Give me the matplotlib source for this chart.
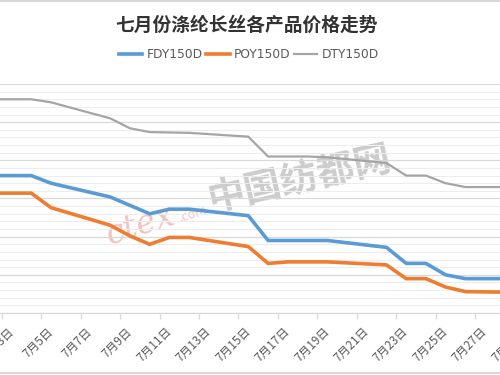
import matplotlib
matplotlib.use("Agg")
import matplotlib.pyplot as plt
from matplotlib.lines import Line2D
from matplotlib.ticker import MultipleLocator

plt.rcParams['font.family'] = ['Noto Sans CJK SC', 'DejaVu Sans']

# trading days in July (day of month)
days = [1, 2, 3, 4, 5, 8, 9, 10, 11, 12, 15, 16, 17, 18, 19, 22, 23, 24, 25, 26, 29]
fdy150d = [8300, 8300, 8300, 8300, 8200, 8020, 7910, 7800, 7860, 7860, 7775,
           7450, 7450, 7450, 7450, 7360, 7150, 7150, 7000, 6950, 6950]
poy150d = [8070, 8070, 8070, 8070, 7880, 7650, 7510, 7400, 7490, 7490, 7370,
           7150, 7170, 7170, 7170, 7130, 6950, 6950, 6840, 6780, 6770]
dty150d = [9300, 9300, 9300, 9300, 9260, 9050, 8920, 8870, 8865, 8860, 8810,
           8550, 8550, 8550, 8540, 8465, 8300, 8300, 8200, 8150, 8150]
label_days = list(range(3, 30, 2))
tick_labels = ['7月%d日' % d for d in label_days]
title = '七月份涤纶长丝各产品价格走势'

fig = plt.figure(figsize=(5, 3.75), dpi=100)
ax = fig.add_axes([0, 62 / 375, 1, 229 / 375])

ax.plot(days, fdy150d, color='#5B9BD5', lw=2.6, label='FDY150D', zorder=4, solid_joinstyle='round')
ax.plot(days, poy150d, color='#ED7D31', lw=2.6, label='POY150D', zorder=4, solid_joinstyle='round')
ax.plot(days, dty150d, color='#A5A5A5', lw=1.6, label='DTY150D', zorder=3, solid_joinstyle='round')

ax.yaxis.set_major_locator(MultipleLocator(500))
ax.yaxis.set_minor_locator(MultipleLocator(100))
ax.grid(axis='y', which='major', color='#D9D9D9', lw=0.9, zorder=0)
ax.grid(axis='y', which='minor', color='#EDEDED', lw=0.8, zorder=0)
ax.tick_params(axis='y', which='both', left=False, labelleft=False)

ax.set_xticks(label_days)
ax.set_xticklabels(tick_labels, rotation=45, ha='right', va='center',
                   rotation_mode='anchor', fontsize=8.5, color='#595959')
ax.tick_params(axis='x', which='major', length=0, pad=12)
ax.set_xticks([d - 0.5 for d in label_days], minor=True)
ax.tick_params(axis='x', which='minor', length=4, width=0.9, color='#D9D9D9', direction='out')
# set limits after ticks, set_xticks would widen them
ax.set_xlim(2.414, 27.755)
ax.set_ylim(6500, 9500)

# last label sits past the right edge, only a sliver shows
ax.annotate(tick_labels[-1], xy=(label_days[-1], 0), xycoords=ax.get_xaxis_transform(),
            xytext=(0, -12), textcoords='offset points', rotation=45, ha='right',
            va='center', rotation_mode='anchor', fontsize=8.5, color='#595959',
            annotation_clip=False)

for s in ['top', 'left', 'right']:
    ax.spines[s].set_visible(False)
ax.spines['bottom'].set_color('#D9D9D9')
ax.spines['bottom'].set_linewidth(0.9)

# watermark
ax.text(0.60, 0.59, '中国纺都网', transform=ax.transAxes, fontsize=27, color='#9A9A9A',
        alpha=0.5, rotation=13, ha='center', va='center', fontweight='bold', zorder=1)
ax.text(0.28, 0.38, 'ctex', transform=ax.transAxes, fontsize=24, color='#E89A9A',
        alpha=0.6, rotation=18, ha='center', va='center', style='italic',
        family='DejaVu Serif', zorder=1)
ax.text(0.385, 0.43, '.com', transform=ax.transAxes, fontsize=9, color='#E89A9A',
        alpha=0.6, rotation=18, ha='center', va='center', style='italic', zorder=1)

fig.text(0.494, 1 - 25 / 375, title, ha='center', va='center', fontsize=13.5,
         fontweight='bold', color='#333333')

leg = fig.legend(loc='center', bbox_to_anchor=(0.498, 1 - 55 / 375), ncol=3, frameon=False,
                 handlelength=1.9, handletextpad=0.35, columnspacing=0.3,
                 prop={'family': 'DejaVu Sans', 'size': 8.8})
for t in leg.get_texts():
    t.set_color('#595959')

fig.add_artist(Line2D([0, 1], [1 - 1 / 375, 1 - 1 / 375], color='#D0D0D0', lw=1.2))
fig.add_artist(Line2D([0, 1], [2 / 375, 2 / 375], color='#D0D0D0', lw=1.2))

fig.savefig('out.png', dpi=100)
